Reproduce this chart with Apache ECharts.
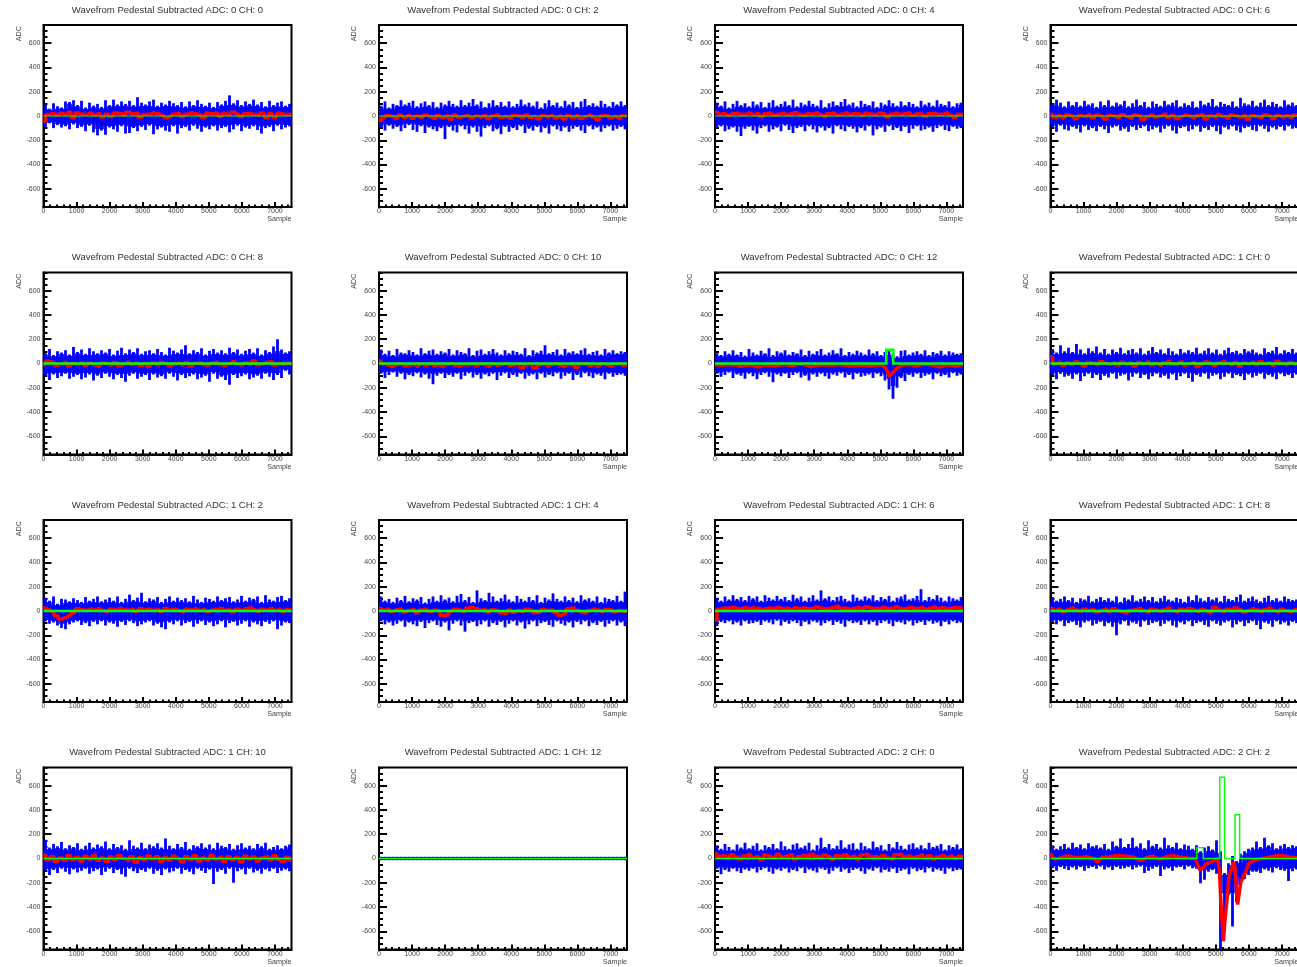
<!DOCTYPE html>
<html><head><meta charset="utf-8">
<style>html,body{margin:0;padding:0;background:#fff;overflow:hidden;width:1297px;height:967px}#c{width:1330px;height:967px;filter:blur(0.35px)}</style>
<script src="https://cdn.jsdelivr.net/npm/echarts@6/dist/echarts.min.js"></script>
</head><body><div id="c"></div>
<script>
const panelTitles=["ADC: 0 CH: 0","ADC: 0 CH: 2","ADC: 0 CH: 4","ADC: 0 CH: 6","ADC: 0 CH: 8","ADC: 0 CH: 10","ADC: 0 CH: 12","ADC: 1 CH: 0","ADC: 1 CH: 2","ADC: 1 CH: 4","ADC: 1 CH: 6","ADC: 1 CH: 8","ADC: 1 CH: 10","ADC: 1 CH: 12","ADC: 2 CH: 0","ADC: 2 CH: 2"];
const yMajor=[-600,-400,-200,0,200,400,600];
const yMinor=[-750,-700,-650,-550,-500,-450,-350,-300,-250,-150,-100,-50,50,100,150,250,300,350,450,500,550,650,700,750];
const xMajor=[0,1000,2000,3000,4000,5000,6000,7000];
const xMinor=[200,400,600,800,1200,1400,1600,1800,2200,2400,2600,2800,3200,3400,3600,3800,4200,4400,4600,4800,5200,5400,5600,5800,6200,6400,6600,6800,7200,7400];
const hi0=[95,60,105,80,70,120,115,130,90,125,70,110,85,100,75,130,90,135,95,120,100,125,90,155,110,95,120,135,85,110,95,125,105,90,115,80,120,90,130,100,85,110,75,115,95,125,170,105,130,90,120,100,135,95,115,80,125,90,110,120,85,100];
const lo0=[-90,-60,-100,-75,-95,-85,-110,-70,-100,-90,-125,-80,-135,-160,-120,-155,-95,-110,-130,-85,-145,-140,-100,-125,-90,-115,-80,-150,-110,-95,-120,-130,-85,-145,-100,-90,-120,-80,-105,-130,-95,-110,-85,-120,-100,-90,-135,-110,-80,-125,-95,-105,-85,-115,-145,-100,-90,-125,-80,-110,-95,-85];
const hi1=[85,120,70,100,90,130,95,110,125,80,105,120,90,115,75,110,95,125,100,85,130,90,110,140,95,120,75,105,130,90,115,85,120,80,100,135,95,110,85,120,70,105,130,90,110,80,125,95,115,75,120,140,90,105,85,125,100,80,115,95,120,90];
const lo1=[-95,-120,-80,-105,-90,-125,-100,-75,-115,-130,-85,-140,-95,-110,-125,-100,-190,-90,-120,-135,-85,-110,-145,-95,-130,-170,-100,-85,-125,-110,-150,-90,-130,-100,-115,-85,-140,-105,-120,-90,-135,-100,-145,-85,-110,-125,-95,-130,-105,-90,-120,-140,-85,-110,-95,-130,-100,-85,-120,-105,-90,-110];
const hi2=[110,85,120,70,100,125,90,105,80,120,95,115,75,110,130,85,100,120,90,135,80,110,95,125,100,85,130,75,105,120,90,115,140,95,110,80,125,100,90,120,75,110,95,130,105,85,120,90,115,100,80,125,95,110,85,130,100,90,120,80,105,110];
const lo2=[-100,-85,-125,-110,-95,-130,-165,-105,-90,-120,-145,-100,-85,-130,-110,-95,-125,-80,-115,-140,-100,-90,-125,-85,-110,-135,-95,-120,-100,-145,-85,-110,-125,-90,-105,-135,-100,-120,-85,-160,-110,-95,-130,-85,-115,-100,-125,-90,-140,-105,-85,-120,-110,-95,-130,-100,-85,-115,-125,-90,-105,-100];
const hi3=[100,135,110,80,120,90,115,85,125,95,105,75,120,90,130,85,110,95,125,80,105,135,90,115,75,120,100,85,125,95,110,130,80,105,90,120,75,125,95,110,140,85,115,100,90,120,80,150,105,95,125,85,110,135,90,115,100,80,130,95,110,90];
const lo3=[-95,-130,-80,-110,-120,-90,-105,-135,-85,-115,-100,-125,-90,-110,-140,-95,-85,-120,-105,-130,-90,-115,-100,-85,-125,-110,-95,-135,-105,-85,-120,-145,-100,-90,-125,-110,-85,-130,-100,-115,-90,-125,-150,-95,-110,-85,-120,-135,-100,-90,-115,-125,-85,-105,-130,-95,-110,-90,-120,-85,-105,-100];
const hi4=[85,120,70,100,90,110,75,135,95,115,80,125,100,85,110,90,120,75,105,130,85,115,95,125,80,100,110,85,120,95,75,130,105,90,115,150,85,110,95,125,75,105,120,90,110,85,130,95,115,80,105,120,90,125,75,110,95,140,200,115,90,100];
const lo4=[-100,-135,-90,-120,-105,-85,-125,-110,-95,-130,-115,-90,-140,-100,-120,-85,-110,-130,-95,-120,-150,-100,-85,-125,-110,-95,-135,-90,-115,-105,-125,-85,-110,-140,-95,-120,-105,-90,-130,-115,-100,-150,-85,-125,-110,-135,-175,-95,-120,-105,-90,-130,-115,-100,-125,-85,-110,-135,-95,-120,-60,-90];
const hi5=[115,80,105,70,120,90,85,110,95,75,125,85,105,115,80,100,90,120,75,110,95,85,125,70,105,115,80,100,120,90,75,110,85,105,95,80,125,70,110,90,105,150,85,95,115,75,120,90,100,85,110,125,80,95,105,75,120,90,110,85,100,95];
const lo5=[-85,-120,-95,-75,-110,-85,-130,-95,-105,-80,-115,-90,-125,-170,-100,-85,-120,-95,-110,-85,-130,-100,-80,-115,-95,-125,-90,-105,-85,-135,-100,-80,-120,-95,-110,-85,-125,-100,-90,-130,-85,-115,-95,-105,-80,-125,-100,-85,-135,-95,-115,-80,-105,-120,-90,-100,-130,-85,-110,-95,-90,-100];
const hi6=[85,70,100,80,110,75,95,65,120,90,75,105,85,125,70,100,90,110,75,95,85,115,70,105,80,100,120,75,90,110,85,125,70,95,80,105,90,75,115,85,100,70,95,120,85,60,105,110,75,90,100,80,110,70,95,85,105,75,100,90,80,85];
const lo6=[-85,-110,-95,-75,-120,-90,-100,-125,-85,-105,-130,-95,-80,-110,-155,-90,-105,-85,-120,-95,-80,-115,-100,-140,-90,-110,-85,-105,-125,-90,-100,-80,-115,-95,-130,-85,-110,-100,-90,-120,-85,-105,-140,-215,-290,-200,-120,-145,-95,-110,-85,-120,-100,-90,-130,-85,-105,-95,-115,-80,-100,-90];
const hi7=[120,90,150,100,130,95,160,115,85,125,100,140,90,120,80,115,95,130,85,110,120,90,125,80,105,135,95,115,85,125,100,80,120,90,110,95,130,85,105,125,90,115,80,110,130,95,105,85,120,100,115,90,80,125,95,105,135,85,110,95,120,90];
const lo7=[-95,-130,-85,-110,-100,-125,-90,-145,-105,-85,-120,-95,-135,-100,-115,-85,-125,-100,-90,-140,-110,-85,-120,-95,-130,-105,-85,-115,-100,-125,-90,-135,-105,-85,-120,-150,-95,-110,-85,-125,-100,-90,-130,-110,-85,-120,-95,-105,-135,-90,-115,-100,-85,-125,-95,-110,-130,-85,-105,-95,-120,-90];
const hi8=[110,85,120,60,100,95,80,105,90,75,115,85,100,120,80,95,110,85,120,75,100,135,90,110,150,80,105,95,115,75,100,120,85,110,90,105,80,125,95,75,110,100,85,120,90,105,115,80,95,125,85,110,100,120,75,130,95,85,115,125,90,105];
const lo8=[-85,-105,-95,-120,-140,-150,-110,-95,-85,-115,-100,-125,-90,-110,-85,-120,-95,-105,-130,-90,-115,-85,-100,-125,-110,-95,-85,-120,-105,-135,-150,-95,-110,-85,-120,-100,-90,-130,-105,-85,-115,-95,-125,-110,-85,-135,-100,-90,-120,-105,-85,-130,-95,-110,-125,-90,-105,-85,-150,-120,-95,-100];
const hi9=[120,85,100,75,110,90,125,80,105,95,115,70,100,120,85,130,95,110,80,125,140,90,115,75,170,105,90,150,120,85,105,135,95,80,125,100,85,115,90,130,75,110,95,145,100,85,120,90,110,80,130,95,105,85,120,75,110,100,90,125,85,160];
const lo9=[-85,-110,-95,-120,-105,-85,-130,-95,-110,-125,-90,-140,-100,-85,-115,-130,-95,-160,-105,-85,-120,-170,-100,-90,-125,-110,-85,-130,-100,-115,-90,-135,-105,-85,-120,-95,-145,-110,-85,-125,-100,-90,-115,-130,-85,-105,-120,-95,-135,-90,-110,-85,-125,-100,-115,-90,-130,-105,-85,-120,-95,-125];
const hi10=[110,85,120,95,130,100,115,90,125,105,120,85,130,110,95,125,100,115,90,135,105,120,85,110,130,95,170,105,120,90,115,125,100,85,135,110,95,120,105,130,90,115,100,125,85,110,120,135,95,105,125,180,90,115,100,130,110,85,120,105,95,115];
const lo10=[-125,-90,-100,-85,-110,-95,-120,-85,-105,-100,-90,-115,-85,-95,-110,-80,-120,-90,-105,-85,-100,-125,-90,-110,-85,-95,-120,-100,-85,-115,-90,-105,-130,-85,-100,-95,-115,-85,-110,-90,-120,-100,-85,-105,-125,-90,-95,-110,-85,-120,-100,-90,-115,-85,-105,-95,-125,-90,-110,-85,-100,-95];
const hi11=[115,85,100,120,90,110,75,105,95,125,80,100,115,90,105,85,120,75,110,95,130,85,100,120,90,115,80,105,125,95,85,110,100,75,120,90,130,105,85,115,95,110,80,125,100,90,115,135,85,105,120,95,80,110,125,90,105,85,120,100,90,95];
const lo11=[-90,-110,-85,-125,-100,-90,-115,-135,-95,-85,-120,-105,-90,-125,-100,-130,-200,-110,-85,-120,-95,-105,-130,-85,-115,-100,-90,-125,-105,-85,-120,-135,-95,-110,-85,-125,-100,-90,-115,-130,-85,-105,-120,-95,-85,-135,-110,-90,-125,-100,-85,-115,-150,-95,-105,-130,-85,-110,-95,-120,-90,-100];
const hi12=[155,90,120,100,135,85,110,95,125,80,105,130,90,115,100,140,85,120,95,110,80,150,105,90,130,85,115,100,125,90,165,105,85,120,95,135,80,110,100,125,90,115,85,130,105,95,120,80,110,125,90,105,85,120,100,130,80,95,110,85,105,115];
const lo12=[-100,-135,-95,-120,-85,-110,-130,-90,-115,-100,-85,-125,-105,-90,-135,-110,-85,-120,-95,-130,-150,-85,-105,-120,-95,-110,-85,-125,-100,-135,-90,-115,-105,-85,-125,-95,-110,-130,-85,-100,-120,-90,-210,-110,-95,-125,-85,-200,-105,-90,-130,-85,-115,-100,-125,-90,-105,-85,-120,-100,-90,-105];
const hi13=[15,15,15,15,15,15,15,15,15,15,15,15,15,15,15,15,15,15,15,15,15,15,15,15,15,15,15,15,15,15,15,15,15,15,15,15,15,15,15,15,15,15,15,15,15,15,15,15,15,15,15,15,15,15,15,15,15,15,15,15,15,15];
const lo13=[-15,-15,-15,-15,-15,-15,-15,-15,-15,-15,-15,-15,-15,-15,-15,-15,-15,-15,-15,-15,-15,-15,-15,-15,-15,-15,-15,-15,-15,-15,-15,-15,-15,-15,-15,-15,-15,-15,-15,-15,-15,-15,-15,-15,-15,-15,-15,-15,-15,-15,-15,-15,-15,-15,-15,-15,-15,-15,-15,-15,-15,-15];
const hi14=[110,80,120,95,75,115,90,130,85,105,125,75,110,95,120,85,140,100,80,115,125,90,105,130,75,110,170,95,120,85,105,150,90,115,125,80,130,100,85,140,95,110,75,120,90,135,105,80,115,125,90,110,85,130,95,105,120,75,110,95,115,85];
const lo14=[-85,-130,-95,-110,-85,-105,-120,-90,-100,-85,-115,-95,-80,-110,-125,-90,-100,-85,-115,-95,-105,-80,-120,-90,-100,-115,-85,-95,-125,-100,-80,-110,-90,-120,-95,-85,-105,-125,-90,-100,-80,-115,-95,-110,-85,-120,-100,-90,-130,-85,-105,-95,-115,-80,-110,-90,-100,-125,-85,-105,-95,-90];
const hi15=[110,80,100,120,90,130,95,115,85,125,100,110,90,120,80,140,105,165,95,120,170,100,125,85,150,105,120,90,170,110,95,130,85,115,105,80,110,60,90,100,75,150,60,-120,-40,20,-20,40,60,80,90,140,95,170,110,125,85,105,120,95,110,100];
const lo15=[-80,-100,-70,-85,-95,-75,-90,-70,-100,-80,-70,-85,-65,-90,-75,-95,-70,-85,-80,-70,-90,-75,-65,-120,-100,-85,-70,-145,-90,-80,-100,-75,-70,-90,-65,-80,-85,-205,-175,-110,-95,-125,-750,-560,-300,-560,-360,-230,-170,-135,-110,-110,-120,-90,-100,-115,-80,-95,-100,-185,-105,-90];
const re0=[-45,12,20,8,22,15,30,-10,25,15,12,22,8,18,-8,15,-5,25,20,10,30,18,22,-10,12,15,25,18,8,-15,-5,15,20,-5,15,25,18,12,-15,22,18,25,-5,20,12,30,15,-5,18,20,12,8,25,-15,20,-10,22,15,10,20];
const re1=[-40,-15,5,-5,-20,8,-10,5,-18,0,-12,8,-5,-20,5,-15,0,-25,8,-10,-3,5,-15,0,-8,5,-20,0,10,-12,-5,-18,5,0,-15,8,-10,-5,-22,3,-8,5,-15,0,-25,5,-12,3,-18,-5,8,-10,-28,0,5,-15,-5,-20,3,-8];
const re2=[30,15,20,5,18,22,12,15,25,10,20,-5,18,25,8,15,22,10,18,28,12,5,20,15,25,10,-5,18,22,8,15,25,12,20,18,5,22,15,10,25,18,-8,15,22,12,18,25,8,20,15,-5,18,22,10,15,25,8,-10,15,12];
const re3=[15,-10,5,-15,10,0,-20,5,-5,10,-15,8,-3,-25,5,0,-15,10,-5,-18,8,3,-30,-5,10,-8,0,15,-12,5,-20,-5,8,0,-15,5,10,-22,0,-8,12,-5,-18,8,0,-10,5,-25,3,-5,-15,10,0,-20,5,-8,3,-12,8,0];
const re4=[-10,18,10,-15,-5,8,-20,0,-8,5,-15,3,-10,-22,5,0,-12,8,-18,-5,10,-8,3,-15,0,-25,5,-10,8,0,-18,-5,3,-12,8,-20,0,5,-10,-15,3,10,-8,-18,0,15,-5,-12,5,-8,20,-10,-3,8,15,-12,0,-8,5,-10];
const re5=[20,-5,-15,-25,-10,-5,-20,-12,-8,-22,-5,-15,-3,-18,-10,-25,-8,-3,-15,-20,-8,-12,-5,-18,-3,-10,-22,-5,-15,-8,-3,-18,-12,-5,-35,-10,-5,-38,-12,-5,-20,-8,-3,-15,-25,-8,-12,-30,-5,-3,-18,-10,-25,-5,-12,-20,-8,-3,-15,-10];
const re6=[[0,-10],[200,-15],[500,-8],[800,-22],[1100,-10],[1300,-30],[1500,-12],[1800,-20],[2100,-8],[2300,-18],[2600,-5],[2900,-25],[3200,-10],[3500,-15],[3800,-8],[4100,-20],[4400,-12],[4700,-18],[5000,-10],[5120,-25],[5200,-55],[5280,-110],[5340,-85],[5420,-60],[5520,-35],[5650,-15],[5900,-8],[6100,-18],[6350,-5],[6600,-15],[6800,-30],[7000,-10],[7300,-20],[7500,-8]];
const re7=[55,-5,10,-15,5,-8,12,0,-20,8,3,-10,15,0,-8,5,-12,10,-5,3,-20,8,-3,12,-10,0,-15,5,18,-5,-8,10,-12,0,8,-25,-5,12,3,-15,5,18,0,-10,8,-18,3,-5,10,-8,15,-3,5,-12,18,0,-10,8,-5,3];
const re8=[25,10,-5,-40,-65,-55,-40,-15,18,10,5,15,8,18,5,-5,15,8,20,12,5,15,-5,18,10,15,5,12,-5,20,8,15,5,-8,15,10,18,5,12,-5,8,15,20,5,12,-8,15,5,18,25,10,-5,15,8,20,5,15,-5,12,8];
const re9=[20,8,15,-5,10,15,-8,5,12,-15,8,15,-5,8,5,-35,-32,-3,15,8,-5,25,30,18,5,12,-8,10,5,-15,-20,8,-10,5,-5,15,8,-15,-10,12,5,8,-15,-35,-20,18,25,5,-10,-15,5,15,8,-5,12,10,-8,5,-5,8];
const re10=[-75,15,25,20,30,22,18,28,20,25,22,15,18,25,20,30,18,22,15,28,20,25,18,22,35,25,18,22,30,40,20,25,15,22,28,18,35,25,20,22,30,18,25,35,22,18,30,25,20,28,15,25,32,20,28,18,22,30,25,20];
const re11=[20,5,15,-5,10,25,8,-3,15,5,12,-8,5,15,-5,18,3,-8,-15,5,12,20,5,-10,15,8,-3,12,25,5,-8,15,3,20,8,-5,12,5,-12,30,8,-5,15,3,25,10,-10,5,18,8,-5,12,25,5,-8,15,3,-5,10,5];
const re12=[30,-12,15,-25,5,-15,25,-8,10,-20,18,-5,22,-15,5,-25,12,-8,25,0,-15,15,-30,8,-10,20,-5,15,-25,8,-12,18,0,-28,15,-8,22,-20,5,-12,25,-5,10,-22,15,-10,8,-28,18,-5,12,-20,5,15,-12,22,-8,-25,10,-15];
const re13=[];
const re14=[40,15,25,5,30,12,-5,20,35,8,15,-8,28,15,5,35,12,20,30,-5,15,25,10,35,18,5,28,15,-5,25,12,30,8,18,-5,28,35,12,15,8,25,5,-5,30,35,12,20,8,15,30,5,22,-5,12,25,10,18,5,20,12];
const re15=[[0,45],[70,10],[150,-5],[300,5],[500,22],[700,10],[900,5],[1100,15],[1300,0],[1420,-30],[1550,10],[1800,15],[2000,25],[2300,18],[2500,12],[2750,-18],[2900,8],[3100,18],[3300,-5],[3500,15],[3700,25],[3900,12],[4150,5],[4380,0],[4450,-50],[4520,-95],[4600,-80],[4700,-45],[4900,-25],[5050,0],[5110,-100],[5150,-350],[5180,-480],[5230,-680],[5260,-560],[5350,-300],[5400,-140],[5500,-70],[5530,-30],[5575,-60],[5610,-200],[5660,-380],[5750,-200],[5900,-110],[6000,-40],[6200,-10],[6500,5],[6800,20],[7000,25],[7200,12],[7500,5]];
const gr0=[[0,0],[7500,0]];
const gr6=[[0,0],[5180,0],[5180,112],[5390,112],[5390,0],[7500,0]];
const gr15=[[0,0],[4425,0],[4425,90],[4620,90],[4620,0],[5120,0],[5120,670],[5265,670],[5265,0],[5580,0],[5580,360],[5720,360],[5720,0],[7500,0]];
const hiAll=[hi0,hi1,hi2,hi3,hi4,hi5,hi6,hi7,hi8,hi9,hi10,hi11,hi12,hi13,hi14,hi15];
const loAll=[lo0,lo1,lo2,lo3,lo4,lo5,lo6,lo7,lo8,lo9,lo10,lo11,lo12,lo13,lo14,lo15];
const reAll=[re0,re1,re2,re3,re4,re5,re6,re7,re8,re9,re10,re11,re12,re13,re14,re15];
const grAll=[gr0,gr0,gr0,gr0,gr0,gr0,gr6,gr0,gr0,gr0,gr0,gr0,gr0,gr0,gr0,gr15];
const colLeft=[43.5,379,715,1050.5], rowTop=[25,272.5,520,767.5];
const plotW=248, plotH=182, xMax=7500;
const greenW=[1.2,2.6,2.6,1.4];
const labelColor='#444';
const opt={animation:false,backgroundColor:'#fff',title:[],grid:[],xAxis:[],yAxis:[],series:[]};
const font='"Liberation Sans",Arial,sans-serif';
const fmt=v=>String(v);
function renderBin(params,api){
  const x0=api.value(0),x1=api.value(1),hi=api.value(2),lo=api.value(3),hc=api.value(4),lc=api.value(5);
  const a=api.coord([x0,hi]),b=api.coord([x1,lo]),mid=(a[0]+b[0])/2;
  const kids=[{type:'rect',shape:{x:mid-1.4,y:a[1],width:2.8,height:b[1]-a[1]},style:{fill:'#0000ff'}}];
  if(hc>lc){const p=api.coord([x0,hc]),q=api.coord([x1,lc]);
    kids.push({type:'rect',shape:{x:p[0]-0.3,y:p[1],width:q[0]-p[0]+0.6,height:q[1]-p[1]},style:{fill:'#0000ff'}});}
  return {type:'group',children:kids};
}
panelTitles.forEach((t,k)=>{
  const c=k%4,r=Math.floor(k/4),L=colLeft[c],T=rowTop[r];
  opt.title.push({text:'Wavefrom Pedestal Subtracted '+t,left:L+plotW/2,top:T-20,padding:0,textAlign:'center',textStyle:{fontSize:9.5,fontWeight:'normal',color:'#333',fontFamily:font}});
  opt.title.push({text:'Sample',left:L+plotW,top:T+plotH+9,padding:0,textAlign:'right',textStyle:{fontSize:7.2,fontWeight:'normal',color:labelColor,fontFamily:font}});
  opt.grid.push({left:L,top:T,width:plotW,height:plotH,show:true,borderColor:'#000',borderWidth:2,backgroundColor:'#fff'});
  const common={min:0,max:xMax,gridIndex:k,type:'value',splitLine:{show:false}};
  opt.xAxis.push({...common,position:'bottom',
    axisLine:{show:true,onZero:false,lineStyle:{color:'#000',width:2}},
    axisTick:{show:true,inside:true,length:5,customValues:xMajor,lineStyle:{color:'#000',width:2}},
    axisLabel:{show:true,customValues:xMajor,formatter:fmt,margin:1,fontSize:7,color:labelColor,fontFamily:font}});
  opt.xAxis.push({...common,position:'bottom',axisLine:{show:false,onZero:false},
    axisTick:{show:true,inside:true,length:2.5,customValues:xMinor,lineStyle:{color:'#000',width:2}},
    axisLabel:{show:false}});
  const ycommon={min:-750,max:750,gridIndex:k,type:'value',splitLine:{show:false}};
  opt.yAxis.push({...ycommon,position:'left',name:'ADC',nameLocation:'end',nameRotate:90,nameGap:-1,
    nameTextStyle:{align:'right',verticalAlign:'bottom',padding:[0,0,21,0],fontSize:7.2,color:labelColor,fontFamily:font},
    axisLine:{show:true,onZero:false,lineStyle:{color:'#000',width:2}},
    axisTick:{show:true,inside:true,length:8,customValues:yMajor,lineStyle:{color:'#000',width:2}},
    axisLabel:{show:true,customValues:yMajor,formatter:fmt,margin:3,fontSize:7,color:labelColor,fontFamily:font}});
  opt.yAxis.push({...ycommon,position:'left',axisLine:{show:false,onZero:false},
    axisTick:{show:true,inside:true,length:4,customValues:yMinor,lineStyle:{color:'#000',width:2}},
    axisLabel:{show:false}});
  const hi=hiAll[k],lo=loAll[k],n=hi.length,bw=xMax/n;
  const blue=hi.map((v,i)=>{
    const m=Math.min(14,(v-lo[i])*0.06);
    const hc=Math.min(v,hi[Math.max(i-1,0)],hi[Math.min(i+1,n-1)])-m;
    const lc=Math.max(lo[i],lo[Math.max(i-1,0)],lo[Math.min(i+1,n-1)])+m;
    return [i*bw,(i+1)*bw,v,lo[i],hc,lc];
  });
  const re=reAll[k], stepped=typeof re[0]==='number';
  const red=stepped?re.map((v,i)=>[i*xMax/(re.length-1),v]):re;
  const base={xAxisIndex:2*k,yAxisIndex:2*k,silent:true,clip:true};
  opt.series.push({...base,type:'custom',coordinateSystem:'cartesian2d',renderItem:renderBin,data:blue,encode:{x:[0,1],y:[2,3]},z:2});
  opt.series.push({...base,type:'line',symbol:'none',sampling:false,step:stepped?'middle':false,data:red,lineStyle:{color:'#ff0000',width:3.5},z:3});
  opt.series.push({...base,type:'line',symbol:'none',sampling:false,data:grAll[k],lineStyle:{color:'#00ff00',width:greenW[r],join:'miter'},z:4});
});
echarts.init(document.getElementById('c'),null,{renderer:'canvas',width:1330,height:967}).setOption(opt);
</script></body></html>
